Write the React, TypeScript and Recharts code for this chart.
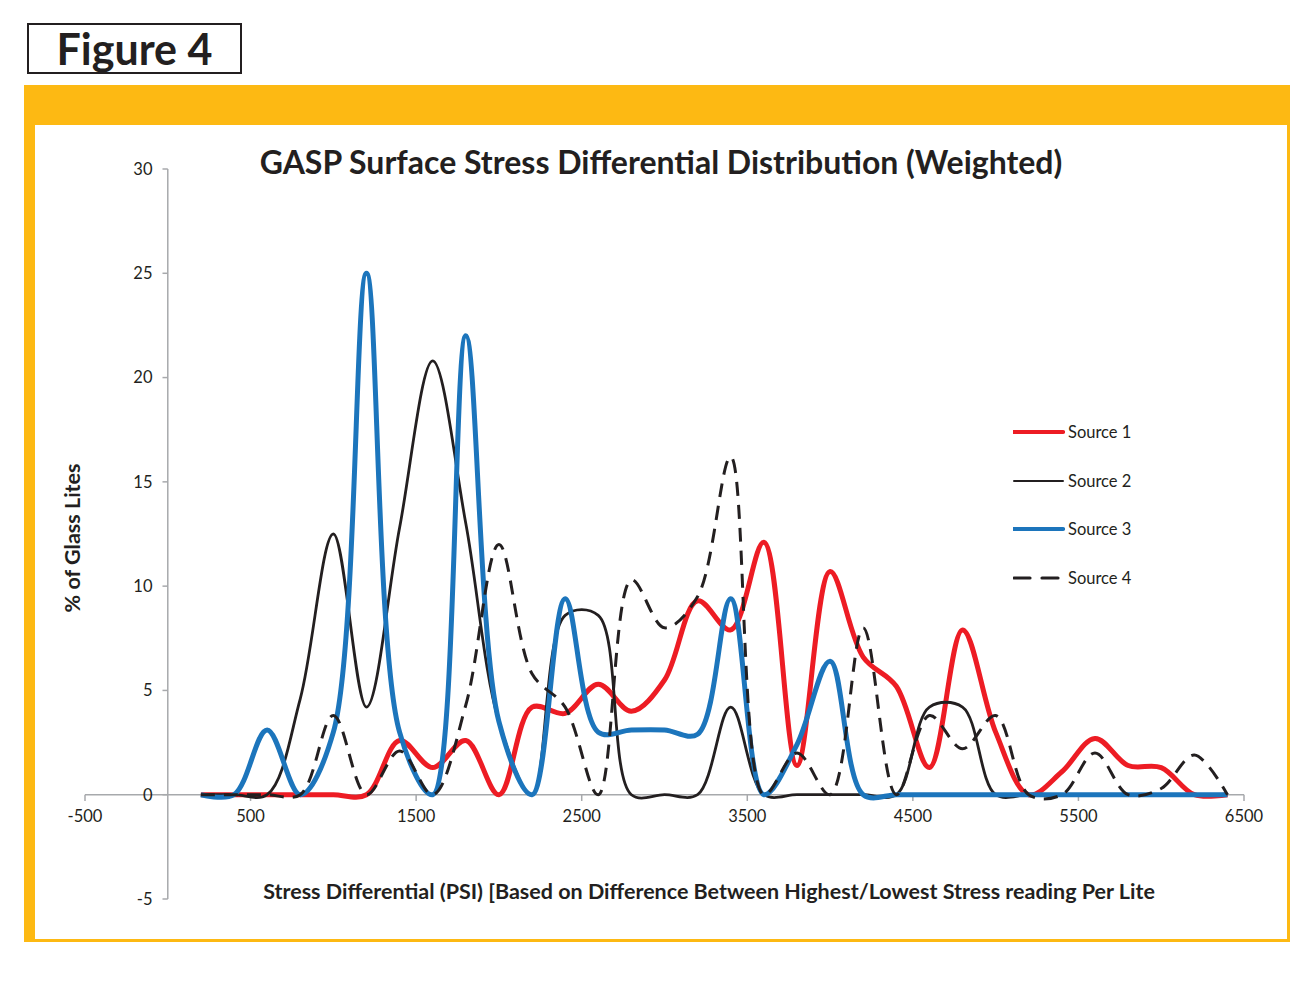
import React from "react";
import { LineChart, Line, XAxis, YAxis, ReferenceLine, Legend } from "recharts";

const stress = [
  200, 400, 600, 800, 1000, 1200, 1400, 1600, 1800, 2000, 2200, 2400, 2600, 2800, 3000, 3200,
  3400, 3600, 3800, 4000, 4200, 4400, 4600, 4800, 5000, 5200, 5400, 5600, 5800, 6000, 6200, 6400,
];

const source1 = [
  0, 0, 0, 0, 0, 0, 2.6, 1.3, 2.6, 0, 4.2, 3.9, 5.3, 4.0, 5.5, 9.3,
  7.9, 12.1, 1.4, 10.7, 6.6, 5.2, 1.3, 7.9, 3.0, 0, 1.1, 2.7, 1.4, 1.3, 0, 0,
];
const source2 = [
  0, 0, 0, 4.6, 12.5, 4.2, 12.8, 20.8, 13, 3.5, 0, 8.6, 8.6, 0, 0, 0,
  4.2, 0, 0, 0, 0, 0, 4.2, 4.2, 0, 0, 0, 0, 0, 0, 0, 0,
];
const source3 = [
  0, 0, 3.1, 0, 3, 25, 3, 0, 22, 3.5, 0, 9.4, 3.0, 3.1, 3.1, 2.9,
  9.4, 0, 2.4, 6.4, 0, 0, 0, 0, 0, 0, 0, 0, 0, 0, 0, 0,
];
const source4 = [
  0, 0, 0, 0, 3.8, 0, 2.1, 0, 4.3, 12, 5.8, 4.2, 0, 10.3, 8.0, 9.5,
  16.2, 0, 2.0, 0, 8.0, 0, 3.8, 2.2, 3.8, 0, 0, 2.0, 0, 0.3, 1.9, 0,
];

const xTicks = [-500, 500, 1500, 2500, 3500, 4500, 5500, 6500];
const yTicks = [-5, 0, 5, 10, 15, 20, 25, 30];

const series = [
  { key: "s1", name: "Source 1", color: "#ed1c24", width: 5, dash: undefined },
  { key: "s2", name: "Source 2", color: "#231f20", width: 2.8, dash: undefined },
  { key: "s3", name: "Source 3", color: "#1c75bc", width: 5, dash: undefined },
  { key: "s4", name: "Source 4", color: "#231f20", width: 3, dash: "14 9" },
];

const data = stress.map((x, i) => ({
  x,
  s1: source1[i],
  s2: source2[i],
  s3: source3[i],
  s4: source4[i],
}));

// centripetal catmull-rom, close to how Excel smooths its lines
function smoothCurve(context: any) {
  let pts: number[][] = [];
  let line = NaN;
  const len = (a: number[], b: number[]) => Math.pow(Math.hypot(b[0] - a[0], b[1] - a[1]), 0.5);
  return {
    areaStart() { line = 0; },
    areaEnd() { line = NaN; },
    lineStart() { pts = []; },
    lineEnd() {
      const n = pts.length;
      if (n > 0) {
        if (line) context.lineTo(pts[0][0], pts[0][1]);
        else context.moveTo(pts[0][0], pts[0][1]);
      }
      for (let i = 0; i < n - 1; i++) {
        const p1 = pts[i];
        const p2 = pts[i + 1];
        const l12 = len(p1, p2);
        const l12b = l12 * l12;
        let c1 = p1;
        let c2 = p2;
        if (i > 0) {
          const p0 = pts[i - 1];
          const l01 = len(p0, p1);
          if (l01 > 1e-6) {
            const l01b = l01 * l01;
            const a = 2 * l01b + 3 * l01 * l12 + l12b;
            const m = 3 * l01 * (l01 + l12);
            c1 = [(p1[0] * a - p0[0] * l12b + p2[0] * l01b) / m, (p1[1] * a - p0[1] * l12b + p2[1] * l01b) / m];
          }
        }
        if (i < n - 2) {
          const p3 = pts[i + 2];
          const l23 = len(p2, p3);
          if (l23 > 1e-6) {
            const l23b = l23 * l23;
            const b = 2 * l23b + 3 * l23 * l12 + l12b;
            const m = 3 * l23 * (l23 + l12);
            c2 = [(p2[0] * b + p1[0] * l23b - p3[0] * l12b) / m, (p2[1] * b + p1[1] * l23b - p3[1] * l12b) / m];
          }
        }
        context.bezierCurveTo(c1[0], c1[1], c2[0], c2[1], p2[0], p2[1]);
      }
      if (line || (line !== 0 && n === 1)) context.closePath();
      line = 1 - line;
    },
    point(x: number, y: number) {
      pts.push([+x, +y]);
    },
  };
}

const FONT = "Lato, 'Open Sans', sans-serif";
const INK = "#231f20";
const AXIS = "#a7a9ac";
const ORANGE = "#fdb913";

function LegendBox() {
  return (
    <div style={{ fontFamily: FONT }}>
      {series.map((s) => (
        <div key={s.key} style={{ display: "flex", alignItems: "center", height: 48.5 }}>
          <svg width={52} height={10}>
            <line x1={1} y1={5} x2={50} y2={5} stroke={s.color} strokeWidth={s.dash ? 3.2 : s.width - 0.8}
              strokeDasharray={s.dash ? "16 12" : undefined} strokeLinecap="round" />
          </svg>
          <span style={{ fontSize: 16.5, color: INK, marginLeft: 3 }}>{s.name}</span>
        </div>
      ))}
    </div>
  );
}

export default function App() {
  return (
    <div style={{ position: "relative", width: 1295, height: 966, fontFamily: FONT, color: INK }}>
      <div
        style={{
          position: "absolute", left: 19, top: 15, width: 211, height: 47,
          border: `2px solid ${INK}`, display: "flex", alignItems: "center", justifyContent: "center",
          fontSize: 43, fontWeight: 700, lineHeight: "47px",
        }}
      >
        Figure 4
      </div>
      <div style={{ position: "absolute", left: 16, top: 77, width: 1266, height: 857, background: ORANGE }}>
        <div style={{ position: "absolute", left: 11, top: 40, width: 1252, height: 814, background: "#fff" }}>
          <div style={{ position: "absolute", left: 0, top: 20, width: 1252, textAlign: "center", fontSize: 32, fontWeight: 700, lineHeight: "34px" }}>
            GASP Surface Stress Differential Distribution (Weighted)
          </div>
          <div
            style={{
              position: "absolute", left: 37, top: 413, transform: "translate(-50%, -50%) rotate(-90deg)",
              whiteSpace: "nowrap", fontSize: 21.5, fontWeight: 700,
            }}
          >
            % of Glass Lites
          </div>
          <div style={{ position: "absolute", left: 74, width: 1200, top: 753, textAlign: "center", fontSize: 21.5, fontWeight: 700, lineHeight: "26px" }}>
            Stress Differential (PSI) [Based on Difference Between Highest/Lowest Stress reading Per Lite
          </div>
          <LineChart width={1252} height={814} data={data} margin={{ top: 44, right: 43, bottom: 40, left: 50 }}>
            <XAxis dataKey="x" type="number" domain={[-500, 6500]} hide allowDataOverflow />
            <YAxis type="number" domain={[-5, 30]} hide allowDataOverflow />
            <ReferenceLine y={0} stroke={AXIS} strokeWidth={1.5} />
            <ReferenceLine x={0} stroke={AXIS} strokeWidth={1.5} />
            {xTicks.map((v) => (
              <ReferenceLine
                key={"xt" + v}
                segment={[{ x: v, y: 0 }, { x: v, y: -0.3 }]}
                stroke={AXIS}
                strokeWidth={1.5}
                label={{ value: String(v), position: "bottom", offset: 9, fill: INK, fontSize: 16.5, fontFamily: FONT }}
              />
            ))}
            {yTicks.map((v) => (
              <ReferenceLine
                key={"yt" + v}
                segment={[{ x: -32, y: v }, { x: 0, y: v }]}
                stroke={AXIS}
                strokeWidth={1.5}
                label={{ value: String(v), position: "left", offset: 10, fill: INK, fontSize: 16.5, fontFamily: FONT }}
              />
            ))}
            {series.map((s) => (
              <Line
                key={s.key}
                dataKey={s.key}
                name={s.name}
                type={smoothCurve as any}
                stroke={s.color}
                strokeWidth={s.width}
                strokeDasharray={s.dash}
                dot={false}
                activeDot={false}
                isAnimationActive={false}
              />
            ))}
            <Legend
              layout="vertical"
              align="center"
              verticalAlign="middle"
              wrapperStyle={{ left: 978, top: 283, width: 170 }}
              content={() => <LegendBox />}
            />
          </LineChart>
        </div>
      </div>
    </div>
  );
}
